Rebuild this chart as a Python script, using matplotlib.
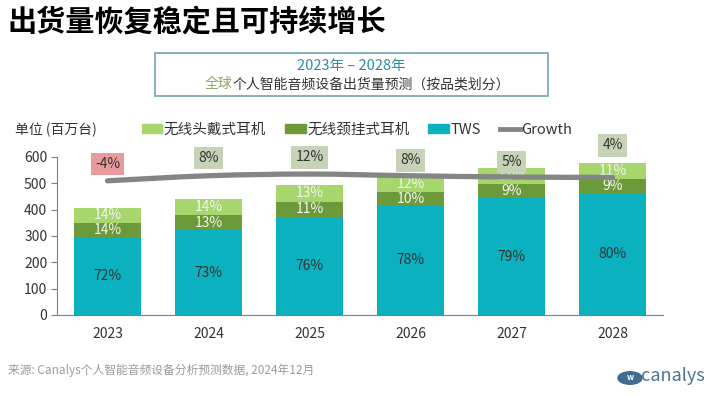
import numpy as np
import matplotlib
matplotlib.use("Agg")
import matplotlib.pyplot as plt
from matplotlib.patches import Rectangle, Patch, Circle, PathPatch
from matplotlib.lines import Line2D
from matplotlib.path import Path

plt.rcParams['font.family'] = ['Noto Sans CJK SC', 'DejaVu Sans']

# data (millions of units)
years = ["2023", "2024", "2025", "2026", "2027", "2028"]
tws = [293, 321, 374, 414, 443, 465]
neck = [57, 57, 56, 54, 54, 52]
head = [57, 62, 65, 62, 62, 62]
tws_pct = ["72%", "73%", "76%", "78%", "79%", "80%"]
neck_pct = ["14%", "13%", "11%", "10%", "9%", "9%"]
head_pct = ["14%", "14%", "13%", "12%", "11%", "11%"]
growth = [-4, 8, 12, 8, 5, 4]
growth_lbl = ["-4%", "8%", "12%", "8%", "5%", "4%"]

c_tws = "#0bb1be"
c_neck = "#6c9a3a"
c_head = "#a6d66c"
c_line = "#858585"

fig = plt.figure(figsize=(7.2, 3.96), dpi=100)
ax = fig.add_axes([57/720, 1-315/396, 606/720, 158/396])

x = np.arange(len(years))
w = 0.66
ax.bar(x, tws, w, color=c_tws)
ax.bar(x, neck, w, bottom=tws, color=c_neck)
bottom2 = np.array(tws) + np.array(neck)
ax.bar(x, head, w, bottom=bottom2, color=c_head)

for i in range(len(years)):
    ax.text(x[i], tws[i]/2, tws_pct[i], ha='center', va='center', fontsize=10, color='#333333')
    ax.text(x[i], tws[i] + neck[i]/2, neck_pct[i], ha='center', va='center', fontsize=10, color='#f4f4f4')
    ax.text(x[i], bottom2[i] + head[i]/2, head_pct[i], ha='center', va='center', fontsize=10, color='#f4f4f4')

ax.set_xlim(-0.5, 5.5)
ax.set_ylim(0, 600)
ax.set_yticks(range(0, 601, 100))
ax.set_xticks(x)
ax.set_xticklabels(years)
for s in ['top', 'right']:
    ax.spines[s].set_visible(False)
ax.spines['left'].set_color('#7f7f7f')
ax.spines['bottom'].set_color('#7f7f7f')
ax.tick_params(axis='y', length=4, color='#7f7f7f', labelsize=10, labelcolor='#333333', pad=3)
ax.tick_params(axis='x', length=0, labelsize=10, labelcolor='#333333', pad=9)

# growth line on hidden secondary axis
ax2 = ax.twinx()
ax2.set_ylim(-322.5, 52.5)
ax2.axis('off')
# smooth curve through the growth points
pts = np.column_stack([x, growth]).astype(float)
verts = [pts[0]]
codes = [Path.MOVETO]
for i in range(len(pts) - 1):
    p0 = pts[i-1] if i > 0 else pts[i]
    p1 = pts[i]
    p2 = pts[i+1]
    p3 = pts[i+2] if i + 2 < len(pts) else pts[i+1]
    verts += [p1 + (p2 - p0)/6, p2 - (p3 - p1)/6, p2]
    codes += [Path.CURVE4]*3
ax2.add_patch(PathPatch(Path(verts, codes), fill=False, edgecolor=c_line, lw=3.8, capstyle='round'))

offs = [12, 13, 12, 11, 11, 23]
for i in range(len(years)):
    fc = "#e89a9c" if growth[i] < 0 else "#c7d3b6"
    ax2.annotate(growth_lbl[i], (x[i], growth[i]), xytext=(0, offs[i]), textcoords='offset points',
                 ha='center', va='center', fontsize=10, color='#333333', annotation_clip=False,
                 bbox=dict(boxstyle='square,pad=0.3', fc=fc, ec='none'))

# legend
handles = [Patch(color=c_head), Patch(color=c_neck), Patch(color=c_tws),
           Line2D([0], [0], color=c_line, lw=3.5)]
labels = ["无线头戴式耳机", "无线颈挂式耳机", "TWS", "Growth"]
fig.legend(handles, labels, loc='center left', bbox_to_anchor=(142/720, 1-130/396), ncol=4,
           frameon=False, fontsize=10.5, handlelength=1.4, handleheight=0.6,
           handletextpad=0.1, columnspacing=1.3, borderpad=0, borderaxespad=0,
           labelcolor='#333333')
fig.text(15/720, 1-130/396, "单位 (百万台)", fontsize=10, color='#333333', va='center')

# titles
fig.text(8/720, 1-22/396, "出货量恢复稳定且可持续增长", fontsize=21, fontweight='bold',
         color='black', va='center')
fig.patches.append(Rectangle((155/720, 1-96/396), 393/720, 43/396, transform=fig.transFigure,
                             fill=False, ec='#7eaab8', lw=1.3))
fig.text(351/720, 1-66/396, "2023年 – 2028年", fontsize=10.5, color='#2a8ea2', ha='center', va='center')
t1 = fig.text(205/720, 1-84/396, "全球", fontsize=10, color='#8fa85c', va='center')
ax.annotate("个人智能音频设备出货量预测（按品类划分）", xy=(1, 0.5), xycoords=t1, va='center',
            fontsize=10, color='#333333', annotation_clip=False)

# footer
fig.text(8/720, 1-370/396, "来源: Canalys个人智能音频设备分析预测数据, 2024年12月", fontsize=8.5,
         color='#9a9a9a', va='center')
fig.patches.append(Circle((630/720, 1-378/396), 7/396, transform=fig.transFigure, fc='#3f6d92', ec='none'))
fig.text(630/720, 1-378/396, "w", fontsize=6, color='white', ha='center', va='center', fontweight='bold')
fig.text(641/720, 1-376/396, "canalys", fontsize=13, color='#4c7393', va='center')

fig.savefig("out.png", dpi=100)
